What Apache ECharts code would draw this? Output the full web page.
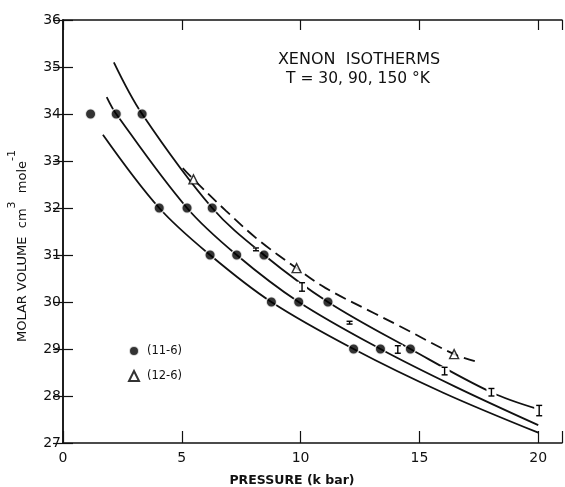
<!DOCTYPE html>
<html>
<head>
<meta charset="utf-8">
<script src="https://cdn.jsdelivr.net/npm/echarts@6/dist/echarts.min.js"></script>
<style>html,body{margin:0;padding:0;background:#fff}#c{width:565px;height:487px}</style>
</head>
<body>
<div id="c"></div>
<script>
// ---- data ----
const xTicks = [0, 5, 10, 15, 20];
const yTicks = [27, 28, 29, 30, 31, 32, 33, 34, 35, 36];

// (11-6) calculated points (filled circles)
const circles116 = [
  [1.16, 34], [2.24, 34], [3.33, 34],
  [4.05, 32], [5.22, 32], [6.28, 32],
  [6.19, 31], [7.31, 31], [8.46, 31],
  [8.77, 30], [9.92, 30], [11.15, 30],
  [12.23, 29], [13.36, 29], [14.62, 29]
];
// (12-6) calculated points (open triangles)
const triangles126 = [[5.49, 32.61], [9.83, 30.72], [16.46, 28.89]];

// experimental points with error bars: [x, y, half-height]
const expPoints = [
  [8.12, 31.12, 0.03], [10.06, 30.32, 0.09], [12.06, 29.56, 0.03],
  [14.09, 28.99, 0.08], [16.06, 28.53, 0.08], [18.03, 28.08, 0.08],
  [20.04, 27.69, 0.11]
];

// isotherm curves (traced)
const curveA = [[2.14, 35.10], [3.33, 34], [6.28, 32], [8.46, 31], [11.15, 30], [14.62, 29], [18.02, 28.08], [20, 27.72]];
const curveB = [[1.84, 34.36], [2.24, 34], [5.22, 32], [7.31, 31], [9.92, 30], [13.36, 29], [16.5, 28.2], [20, 27.38]];
const curveC = [[1.68, 33.56], [4.05, 32], [6.19, 31], [8.77, 30], [12.23, 29], [16, 28.07], [20, 27.22]];
// dashed (12-6) curve
const curveD = [[5.04, 32.85], [5.49, 32.61], [6.86, 31.94], [8.25, 31.31], [9.83, 30.72], [11.04, 30.30], [13.14, 29.75], [14.12, 29.5], [16.46, 28.89], [17.33, 28.74]];

const FONT = 'DejaVu Sans';
const chart = echarts.init(document.getElementById('c'), null, {renderer: 'canvas'});

function lineSeries(data, dashed) {
  return {
    type: 'line', data: data, smooth: 0.35, symbol: 'none', silent: true,
    xAxisIndex: 0, yAxisIndex: 0,
    lineStyle: {color: '#111', width: 1.8, type: dashed ? [12, 6] : 'solid'},
    z: 2
  };
}

const axisCommon = {
  axisLine: {show: true, lineStyle: {color: '#111', width: 1.5}},
  axisTick: {show: true, inside: true, length: 10, lineStyle: {color: '#111', width: 1.2}},
  splitLine: {show: false}
};

chart.setOption({
  animation: false,
  backgroundColor: '#fff',
  grid: {left: 63, right: 1, top: 20, bottom: 44, containLabel: false},
  xAxis: [
    Object.assign({}, axisCommon, {
      type: 'value', min: 0, max: 21, interval: 5, position: 'bottom',
      axisTick: {show: true, inside: true, length: 12, lineStyle: {color: '#111', width: 1.2}},
      axisLabel: {fontFamily: FONT, fontSize: 14, color: '#111', margin: 8,
        formatter: v => xTicks.indexOf(v) >= 0 ? String(v) : ''}
    }),
    Object.assign({}, axisCommon, {
      type: 'value', min: 0, max: 21, interval: 5, position: 'top',
      axisLabel: {show: false}
    })
  ],
  yAxis: [
    Object.assign({}, axisCommon, {
      type: 'value', min: 27, max: 36, interval: 1, position: 'left',
      axisLabel: {fontFamily: FONT, fontSize: 14, color: '#111', margin: 2,
        formatter: v => yTicks.indexOf(v) >= 0 ? String(v) : ''}
    }),
    Object.assign({}, axisCommon, {
      type: 'value', min: 27, max: 36, interval: 1, position: 'right',
      axisLabel: {show: false}
    })
  ],
  legend: {
    orient: 'vertical', left: 128, top: 345, padding: 0,
    itemWidth: 10, itemHeight: 10, itemGap: 13,
    textStyle: {fontFamily: FONT, fontSize: 11.5, color: '#111', padding: [0, 0, 0, 3]},
    data: ['(11-6)', '(12-6)']
  },
  graphic: [
    {type: 'text', x: 359, y: 60,
      style: {text: 'XENON  ISOTHERMS', fontFamily: FONT, fontSize: 16, fill: '#111', align: 'center', verticalAlign: 'middle'}},
    {type: 'text', x: 358, y: 79,
      style: {text: 'T = 30, 90, 150 °K', fontFamily: FONT, fontSize: 15.5, fill: '#111', align: 'center', verticalAlign: 'middle'}},
    {type: 'text', x: 292, y: 481,
      style: {text: 'PRESSURE (k bar)', fontFamily: FONT, fontSize: 12.5, fontWeight: 'bold', fill: '#111', align: 'center', verticalAlign: 'middle'}},
    {type: 'text', x: 18, y: 246, rotation: Math.PI / 2,
      style: {
        text: '{a|MOLAR VOLUME  cm}{s|3}{a|  mole}{s|-1}',
        align: 'center', verticalAlign: 'middle',
        rich: {
          a: {fontFamily: FONT, fontSize: 13, fill: '#111', color: '#111', lineHeight: 22, verticalAlign: 'bottom'},
          s: {fontFamily: FONT, fontSize: 11, fill: '#111', color: '#111', lineHeight: 22, verticalAlign: 'top'}
        }
      }}
  ],
  series: [
    lineSeries(curveA, false),
    lineSeries(curveB, false),
    lineSeries(curveC, false),
    lineSeries(curveD, true),
    {
      name: '(11-6)', type: 'scatter', data: circles116, symbol: 'circle', symbolSize: 10.5,
      itemStyle: {color: '#000', borderColor: '#fff', borderWidth: 1.5}, z: 5
    },
    {
      name: '(12-6)', type: 'scatter', data: triangles126, symbol: 'triangle', symbolSize: 9,
      itemStyle: {color: '#fff', borderColor: '#000', borderWidth: 1.4}, z: 5
    },
    {
      type: 'custom', data: expPoints, z: 6,
      renderItem: function (params, api) {
        const x = api.value(0), y = api.value(1), e = api.value(2);
        const top = api.coord([x, y + e]);
        const bot = api.coord([x, y - e]);
        const w = 3;
        const st = {stroke: '#000', lineWidth: 1.4};
        return {type: 'group', children: [
          {type: 'rect', shape: {x: top[0] - 5, y: top[1] - 1, width: 10, height: bot[1] - top[1] + 2}, style: {fill: '#fff'}},
          {type: 'line', shape: {x1: top[0], y1: top[1], x2: bot[0], y2: bot[1]}, style: st},
          {type: 'line', shape: {x1: top[0] - w, y1: top[1], x2: top[0] + w, y2: top[1]}, style: st},
          {type: 'line', shape: {x1: bot[0] - w, y1: bot[1], x2: bot[0] + w, y2: bot[1]}, style: st}
        ]};
      }
    }
  ]
});
</script>
</body>
</html>
